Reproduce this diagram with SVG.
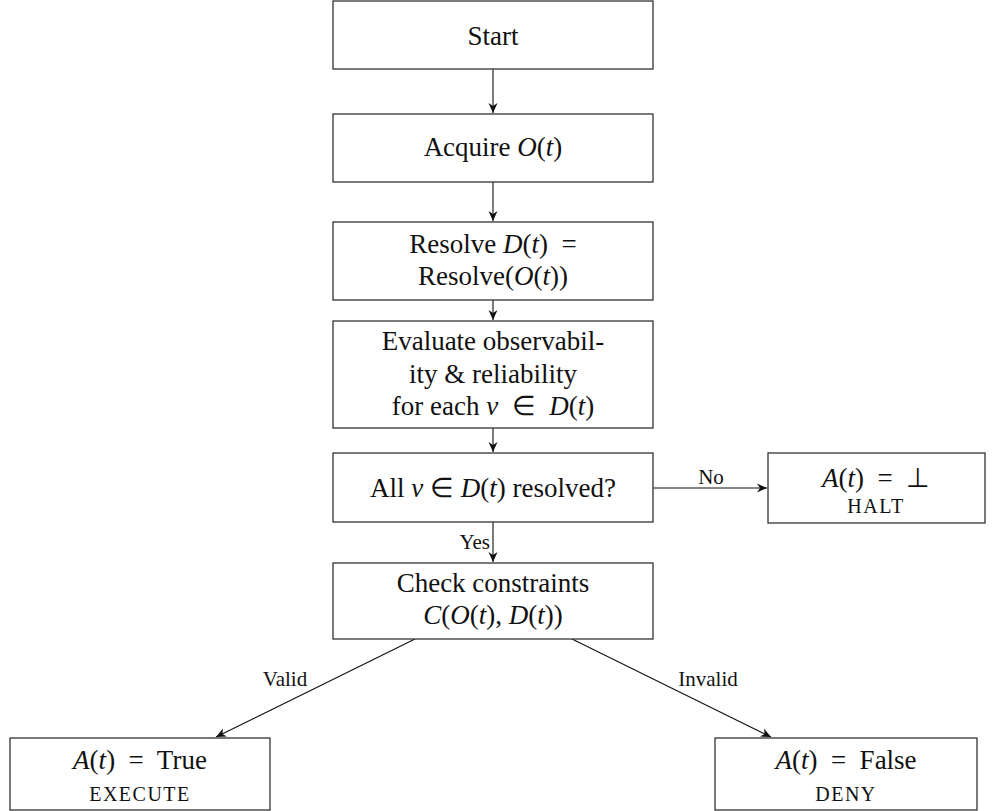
<svg xmlns="http://www.w3.org/2000/svg" width="1005" height="811" viewBox="0 0 1005 811">
<style>
text{font-family:'Liberation Serif';fill:#111;white-space:pre}
.box{fill:#fff;stroke:#333;stroke-width:1.3}
.t{font-size:27px;text-anchor:middle}
.sc{font-size:20px;text-anchor:middle;letter-spacing:1.5px}
.lbl{font-size:21px}
.i{font-style:italic}
.edge{fill:none;stroke:#111;stroke-width:1.1;marker-end:url(#ah)}
</style>
<defs>
<marker id="ah" viewBox="-11 -6 12 12" refX="0" refY="0" markerWidth="12" markerHeight="12" markerUnits="userSpaceOnUse" orient="auto">
<path d="M0,0 L-10,-4.5 L-7,0 L-10,4.5 Z" fill="#111"/>
</marker>
</defs>
<rect width="1005" height="811" fill="#fff"/>
<g id="connectors">
<line class="edge" x1="493" y1="69" x2="493" y2="113"/>
<line class="edge" x1="493" y1="182" x2="493" y2="221"/>
<line class="edge" x1="493" y1="300" x2="493" y2="320"/>
<line class="edge" x1="493" y1="428" x2="493" y2="452"/>
<line class="edge" x1="653" y1="488" x2="767" y2="488"/>
<rect x="696" y="468" width="31" height="19" fill="#fff"/>
<text class="lbl" x="711" y="484" text-anchor="middle">No</text>
<line class="edge" x1="493" y1="522" x2="493" y2="562"/>
<text class="lbl" x="490" y="549" text-anchor="end">Yes</text>
<line class="edge" x1="415" y1="639" x2="216" y2="737"/>
<text class="lbl" x="285" y="686" text-anchor="middle">Valid</text>
<line class="edge" x1="572" y1="639" x2="771" y2="737"/>
<text class="lbl" x="708" y="686" text-anchor="middle">Invalid</text>
</g>
<g id="start">
<rect class="box" x="333" y="1" width="320" height="68"/>
<text class="t" x="493" y="45">Start</text>
</g>
<g id="acquire">
<rect class="box" x="333" y="114" width="320" height="68"/>
<text class="t" x="493" y="156">Acquire <tspan class="i">O</tspan>(<tspan class="i">t</tspan>)</text>
</g>
<g id="resolve">
<rect class="box" x="333" y="222" width="320" height="78"/>
<text class="t" x="493" y="253">Resolve <tspan class="i">D</tspan>(<tspan class="i">t</tspan>)  =</text>
<text class="t" x="493" y="285">Resolve(<tspan class="i">O</tspan>(<tspan class="i">t</tspan>))</text>
</g>
<g id="evaluate">
<rect class="box" x="333" y="321" width="320" height="107"/>
<text class="t" x="493" y="350">Evaluate observabil-</text>
<text class="t" x="493" y="383">ity &amp; reliability</text>
<text class="t" x="493" y="415">for each <tspan class="i">v</tspan>  ∈  <tspan class="i">D</tspan>(<tspan class="i">t</tspan>)</text>
</g>
<g id="check-resolved">
<rect class="box" x="333" y="453" width="320" height="69"/>
<text class="t" x="493" y="497">All <tspan class="i">v</tspan> ∈ <tspan class="i">D</tspan>(<tspan class="i">t</tspan>) resolved?</text>
</g>
<g id="halt">
<rect class="box" x="768" y="453" width="217" height="70"/>
<text class="t" x="876" y="487"><tspan class="i">A</tspan>(<tspan class="i">t</tspan>)  =  ⊥</text>
<text class="sc" x="876" y="513">HALT</text>
</g>
<g id="constraints">
<rect class="box" x="333" y="563" width="320" height="76"/>
<text class="t" x="493" y="592">Check constraints</text>
<text class="t" x="493" y="624"><tspan class="i">C</tspan>(<tspan class="i">O</tspan>(<tspan class="i">t</tspan>), <tspan class="i">D</tspan>(<tspan class="i">t</tspan>))</text>
</g>
<g id="execute">
<rect class="box" x="10" y="738" width="260" height="72"/>
<text class="t" x="140" y="769"><tspan class="i">A</tspan>(<tspan class="i">t</tspan>)  =  True</text>
<text class="sc" x="140" y="801">EXECUTE</text>
</g>
<g id="deny">
<rect class="box" x="715" y="738" width="262" height="72"/>
<text class="t" x="846" y="769"><tspan class="i">A</tspan>(<tspan class="i">t</tspan>)  =  False</text>
<text class="sc" x="846" y="801">DENY</text>
</g>
</svg>
